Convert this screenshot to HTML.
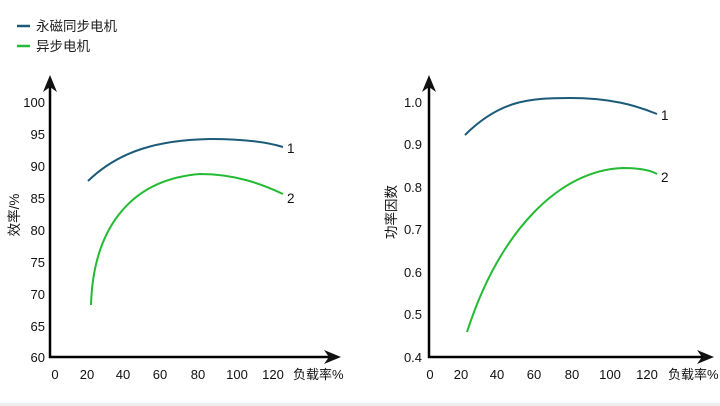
<!DOCTYPE html>
<html><head><meta charset="utf-8"><style>
html,body{margin:0;padding:0;background:#fff;}
svg{display:block;font-family:"Liberation Sans","Noto Sans CJK SC",sans-serif;}
</style></head><body>
<svg width="720" height="406" viewBox="0 0 720 406" xmlns="http://www.w3.org/2000/svg">
<rect width="720" height="406" fill="#fff"/>
<rect x="0" y="403" width="720" height="3" fill="#eeeeee"/>
<line x1="17" y1="26" x2="30" y2="26" stroke="#1b5a78" stroke-width="2.5"/>
<text x="36" y="31" font-size="13.5" fill="#222">永磁同步电机</text>
<line x1="17" y1="46" x2="30" y2="46" stroke="#22bb33" stroke-width="2.5"/>
<text x="36" y="51" font-size="13.5" fill="#222">异步电机</text>

<g fill="#111" stroke="none">
<line x1="50" y1="84" x2="50" y2="358" stroke="#000" stroke-width="2.5"/>
<line x1="49" y1="357" x2="332" y2="357" stroke="#000" stroke-width="2.5"/>
<polygon points="50,75 43,92 50,87 57,92"/>
<polygon points="341,357 324,350 329,357 324,364"/>
<g font-size="13" text-anchor="end">
<text x="45" y="107">100</text><text x="45" y="139">95</text><text x="45" y="171">90</text>
<text x="45" y="203">85</text><text x="45" y="235">80</text><text x="45" y="267">75</text>
<text x="45" y="299">70</text><text x="45" y="331">65</text><text x="45" y="362">60</text>
</g>
<g font-size="13" text-anchor="middle">
<text x="55" y="379">0</text><text x="87" y="379">20</text><text x="123" y="379">40</text>
<text x="160" y="379">60</text><text x="198" y="379">80</text><text x="237" y="379">100</text>
<text x="273" y="379">120</text>
</g>
<text x="293" y="379" font-size="13">负载率%</text>
<text transform="translate(19,215) rotate(-90)" font-size="13.5" text-anchor="middle">效率/%</text>
<text x="287" y="153" font-size="13.5">1</text>
<text x="287" y="203" font-size="13.5">2</text>
</g>
<path d="M88,181 C120,150 160,140 210,139 C250,139 270,143 283,147" fill="none" stroke="#1b5a78" stroke-width="2"/>
<path d="M91,305 C93,235 125,180 200,174 C235,174 262,184 283,194" fill="none" stroke="#22bb33" stroke-width="2"/>

<g fill="#111" stroke="none">
<line x1="429" y1="84" x2="429" y2="358" stroke="#000" stroke-width="2.5"/>
<line x1="428" y1="357" x2="705" y2="357" stroke="#000" stroke-width="2.5"/>
<polygon points="429,75 422,92 429,87 436,92"/>
<polygon points="714,357 697,350 702,357 697,364"/>
<g font-size="13" text-anchor="middle">
<text x="413" y="107">1.0</text><text x="413" y="149">0.9</text><text x="413" y="192">0.8</text>
<text x="413" y="234">0.7</text><text x="413" y="277">0.6</text><text x="413" y="319">0.5</text>
<text x="413" y="362">0.4</text>
</g>
<g font-size="13" text-anchor="middle">
<text x="430" y="379">0</text><text x="461" y="379">20</text><text x="497" y="379">40</text>
<text x="534" y="379">60</text><text x="572" y="379">80</text><text x="610" y="379">100</text>
<text x="647" y="379">120</text>
</g>
<text x="668" y="379" font-size="13">负载率%</text>
<text transform="translate(396,212) rotate(-90)" font-size="13.5" text-anchor="middle">功率因数</text>
<text x="661" y="120" font-size="13.5">1</text>
<text x="661" y="182" font-size="13.5">2</text>
</g>
<path d="M465,135 C500,100 530,98 570,98 C610,98 635,105 657,114" fill="none" stroke="#1b5a78" stroke-width="2"/>
<path d="M467,332 C500,230 560,170 623,168 C640,168 650,170 657,174" fill="none" stroke="#22bb33" stroke-width="2"/>
</svg>
</body></html>
